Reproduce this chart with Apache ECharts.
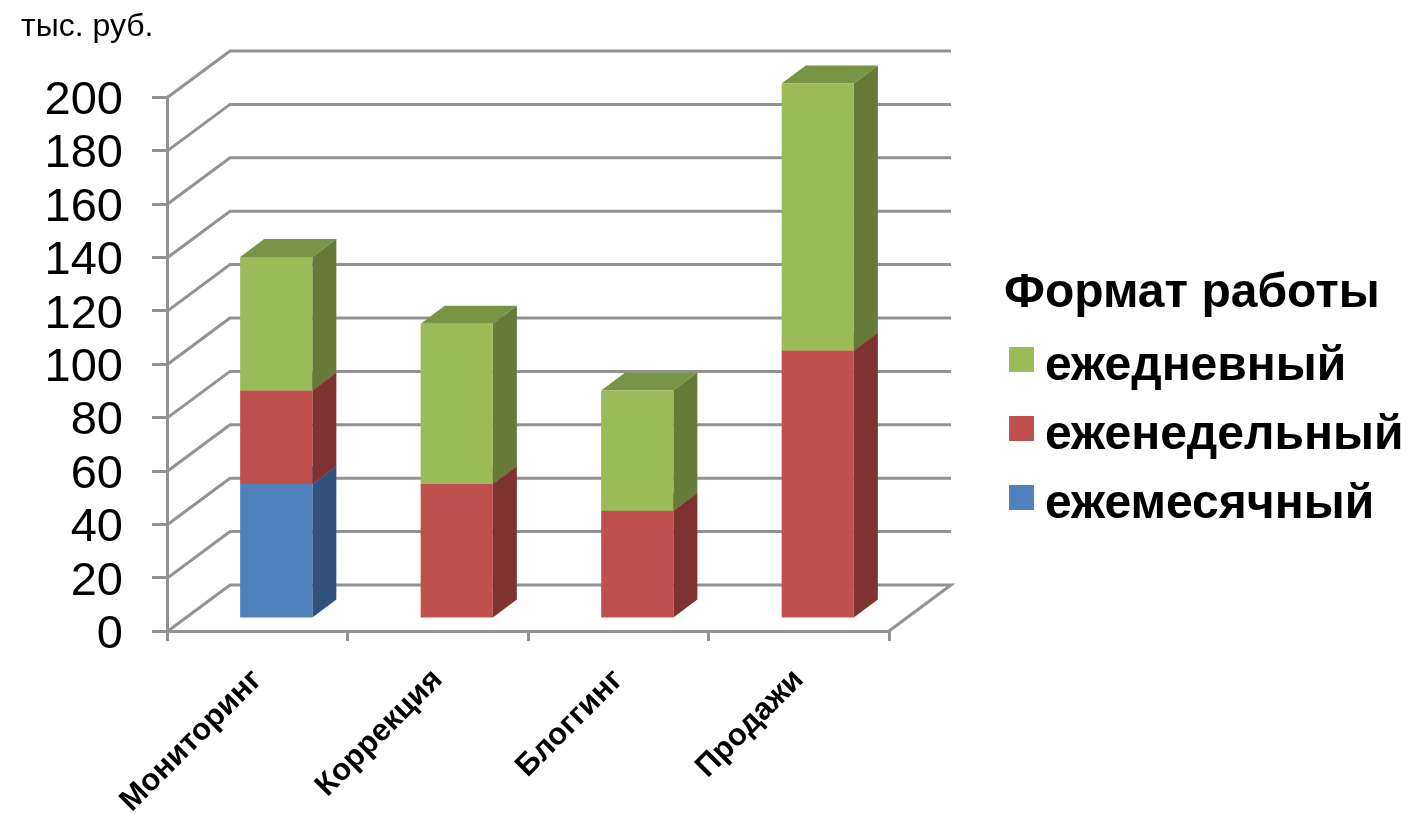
<!DOCTYPE html>
<html><head><meta charset="utf-8">
<style>html,body{margin:0;padding:0;background:#fff}#c{width:1422px;height:821px}</style>
<script src="https://cdn.jsdelivr.net/npm/echarts@6/dist/echarts.min.js"></script>
</head><body><div id="c"></div>
<script>
const categories = ['Мониторинг','Коррекция','Блоггинг','Продажи'];
const monthly = [50,0,0,0];
const weekly = [35,50,40,100];
const daily = [50,60,45,100];
const yTicks = [0,20,40,60,80,100,120,140,160,180,200];
const legendNames = ['ежедневный','еженедельный','ежемесячный'];

const FONT = '"Liberation Sans", Arial, sans-serif';
const GRID = '#929292';
const LW = 3;
const WALL_DX = 62, WALL_DY = -46;
const BAR_DX = 24, BAR_DY = -18, SHIFT_X = 19, SHIFT_Y = -13.5, BAR_RATIO = 0.4;
const LABEL_GAP = 44, LABEL_DROP = 4;

function wall(params, api){
  const cs = params.coordSys;
  const v = api.value(0);
  const y = api.coord([0, v])[1];
  const x0 = cs.x + 1, x1 = cs.x + cs.width;
  const pts = [[x0,y],[x0+WALL_DX,y+WALL_DY],[x1+WALL_DX,y+WALL_DY]];
  if (v === 0) pts.push([x1,y]);
  return {type:'polyline', shape:{points:pts}, style:{stroke:GRID, lineWidth:LW, fill:null}, silent:true};
}
function yLabel(params, api){
  const cs = params.coordSys;
  const v = api.value(0);
  const y = api.coord([0, v])[1];
  return {type:'text', silent:true, style:{
    text:String(v), x:cs.x - LABEL_GAP, y:y + LABEL_DROP,
    align:'right', verticalAlign:'middle',
    fontFamily:FONT, fontSize:47, fill:'#000'
  }};
}
function barRenderer(front, side, topc){
  return function(params, api){
    const idx = api.value(0), a = api.value(1), b = api.value(2);
    if (a === b) return null;
    const p0 = api.coord([idx, a]), p1 = api.coord([idx, b]);
    const w = api.size([1,0])[0] * BAR_RATIO;
    const L = p0[0] + SHIFT_X - w/2, R = L + w;
    const y0 = p0[1] + SHIFT_Y, y1 = p1[1] + SHIFT_Y;
    return {type:'group', children:[
      {type:'polygon', shape:{points:[[L,y1],[R,y1],[R+BAR_DX,y1+BAR_DY],[L+BAR_DX,y1+BAR_DY]]}, style:{fill:topc}},
      {type:'polygon', shape:{points:[[R,y0],[R+BAR_DX,y0+BAR_DY],[R+BAR_DX,y1+BAR_DY],[R,y1]]}, style:{fill:side}},
      {type:'rect', shape:{x:L,y:y1,width:w,height:y0-y1}, style:{fill:front}}
    ]};
  };
}
function stack(vals, below){
  return vals.map((v,i)=>{
    const base = below.reduce((s,arr)=>s+arr[i],0);
    return [i, base, base+v];
  });
}
function barSeries(name, vals, below, c){
  return {type:'custom', name, coordinateSystem:'cartesian2d', legendIcon:'rect',
    itemStyle:{color:c[0]}, renderItem:barRenderer(c[0],c[1],c[2]),
    encode:{x:0,y:[1,2]}, data:stack(vals,below), z:5, silent:true};
}
const chart = echarts.init(document.getElementById('c'), null, {renderer:'canvas'});
chart.setOption({
  animation:false,
  backgroundColor:'#fff',
  title:[
    {text:'тыс. руб.', left:16, top:6, textStyle:{fontFamily:FONT,fontSize:32,fontWeight:'normal',color:'#000'}},
    {text:'Формат работы', left:999, top:265, textStyle:{fontFamily:FONT,fontSize:48,fontWeight:'bold',color:'#000'}}
  ],
  legend:{
    orient:'vertical', left:1004, top:323, itemWidth:25, itemHeight:25, itemGap:6,
    data:legendNames.map(n=>({name:n, icon:'rect'})),
    formatter:n=>'{a|'+n+'}',
    textStyle:{fontFamily:FONT,fontSize:48,fontWeight:'bold',color:'#000',
      rich:{a:{fontFamily:FONT,fontSize:48,fontWeight:'bold',color:'#000',lineHeight:48,padding:[15,0,0,6]}}},
    selectedMode:false
  },
  grid:{left:167,right:533,top:97,bottom:190},
  xAxis:{type:'category',data:categories,
    axisLine:{lineStyle:{color:GRID,width:LW}},
    axisTick:{show:true,length:10,lineStyle:{color:GRID,width:LW}},
    axisLabel:{rotate:45,margin:44,interval:0,fontFamily:FONT,fontSize:31,fontWeight:'bold',color:'#000'}
  },
  yAxis:{type:'value',min:0,max:200,interval:20,
    axisLine:{show:true,lineStyle:{color:GRID,width:LW}},
    axisTick:{show:true,length:15,lineStyle:{color:GRID,width:LW}},
    axisLabel:{show:false},
    splitLine:{show:false}
  },
  series:[
    {type:'custom',name:'grid',renderItem:wall,data:yTicks.map(v=>[v]),encode:{y:0},z:1,silent:true,coordinateSystem:'cartesian2d'},
    {type:'custom',name:'yLabels',renderItem:yLabel,data:yTicks.map(v=>[v]),encode:{y:0},z:1,silent:true,coordinateSystem:'cartesian2d'},
    barSeries(legendNames[2],monthly,[],['#4F81BD','#31527C','#3F6797']),
    barSeries(legendNames[1],weekly,[monthly],['#C0504D','#7F3330','#9A403E']),
    barSeries(legendNames[0],daily,[monthly,weekly],['#9BBB59','#677A3A','#7A9445'])
  ]
});
</script></body></html>
